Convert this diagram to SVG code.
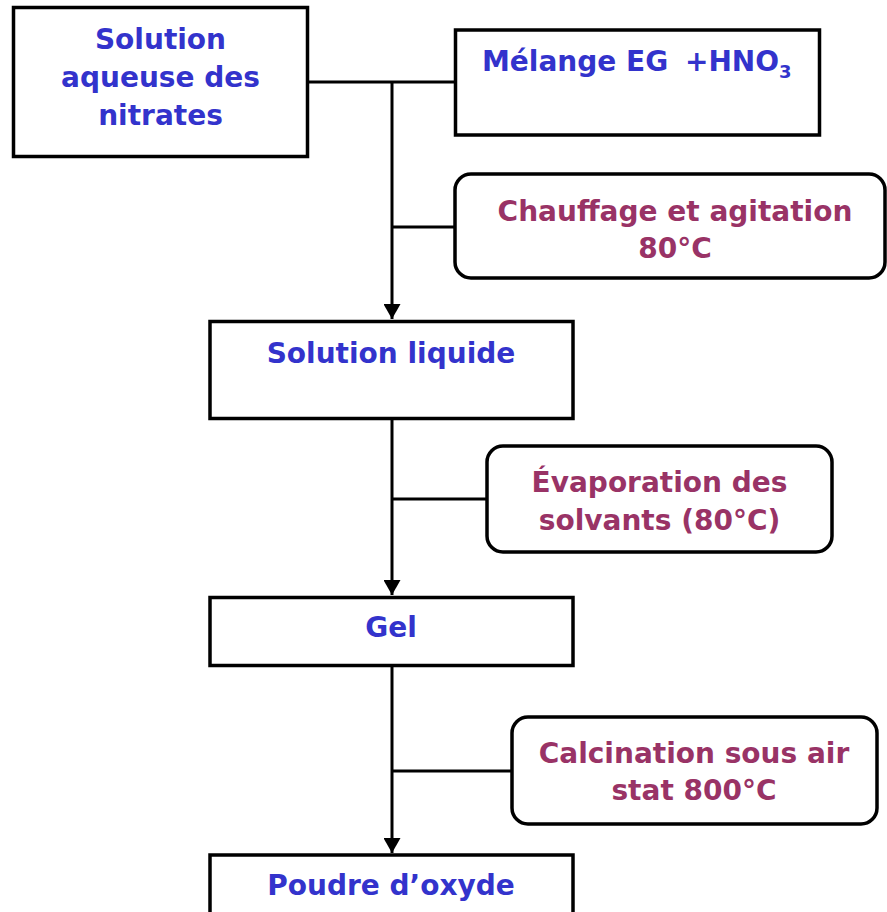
<svg xmlns="http://www.w3.org/2000/svg" width="887" height="912" viewBox="0 0 887 912">
<style>
.box{fill:#fff;stroke:#000;stroke-width:3.5}
.step{fill:#fff;stroke:#000;stroke-width:3.5}
.line{fill:none;stroke:#000;stroke-width:3}
.bt{font-family:"DejaVu Sans",sans-serif;font-weight:bold;font-size:28px;fill:#3333CC;text-anchor:middle}
.mt{font-family:"DejaVu Sans",sans-serif;font-weight:bold;font-size:28px;fill:#993366;text-anchor:middle}
</style>
<defs>
<marker id="arr" markerUnits="userSpaceOnUse" markerWidth="16" markerHeight="17" refX="15" refY="8.5" orient="auto">
<path d="M0,0 L15,8.5 L0,17 Z" fill="#000"/>
</marker>
</defs>
<rect width="887" height="912" fill="#fff"/>
<g id="connectors">
<line class="line" x1="309" y1="82" x2="455" y2="82"/>
<line class="line" x1="392" y1="82" x2="392" y2="319" marker-end="url(#arr)"/>
<line class="line" x1="392" y1="227" x2="455" y2="227"/>
<line class="line" x1="392" y1="420" x2="392" y2="595" marker-end="url(#arr)"/>
<line class="line" x1="392" y1="499" x2="487" y2="499"/>
<line class="line" x1="392" y1="667" x2="392" y2="853" marker-end="url(#arr)"/>
<line class="line" x1="392" y1="771" x2="512" y2="771"/>
</g>
<g id="n1">
<rect class="box" x="13.5" y="7.5" width="294" height="149"/>
<text class="bt" x="160.5" y="49">Solution</text>
<text class="bt" x="160.5" y="87">aqueuse des</text>
<text class="bt" x="160.5" y="125">nitrates</text>
</g>
<g id="n2">
<rect class="box" x="455.5" y="30" width="364" height="105"/>
<text class="bt" x="482" y="71" style="text-anchor:start">Mélange EG <tspan dx="7">+HNO</tspan><tspan font-size="18" dy="7">3</tspan></text>
</g>
<g id="n3">
<rect class="step" x="455" y="174" width="430" height="104" rx="16"/>
<text class="mt" x="675" y="221">Chauffage et agitation</text>
<text class="mt" x="675" y="258">80°C</text>
</g>
<g id="n4">
<rect class="box" x="210" y="321.5" width="363" height="97"/>
<text class="bt" x="391" y="363">Solution liquide</text>
</g>
<g id="n5">
<rect class="step" x="487" y="446" width="345" height="106" rx="16"/>
<text class="mt" x="659.5" y="492">Évaporation des</text>
<text class="mt" x="659.5" y="530">solvants (80°C)</text>
</g>
<g id="n6">
<rect class="box" x="210" y="597.5" width="363" height="68"/>
<text class="bt" x="391" y="637">Gel</text>
</g>
<g id="n7">
<rect class="step" x="512" y="717" width="365" height="107" rx="16"/>
<text class="mt" x="694" y="763">Calcination sous air</text>
<text class="mt" x="694" y="800">stat 800°C</text>
</g>
<g id="n8">
<rect class="box" x="210" y="855" width="363" height="80"/>
<text class="bt" x="391" y="895">Poudre d’oxyde</text>
</g>
</svg>
